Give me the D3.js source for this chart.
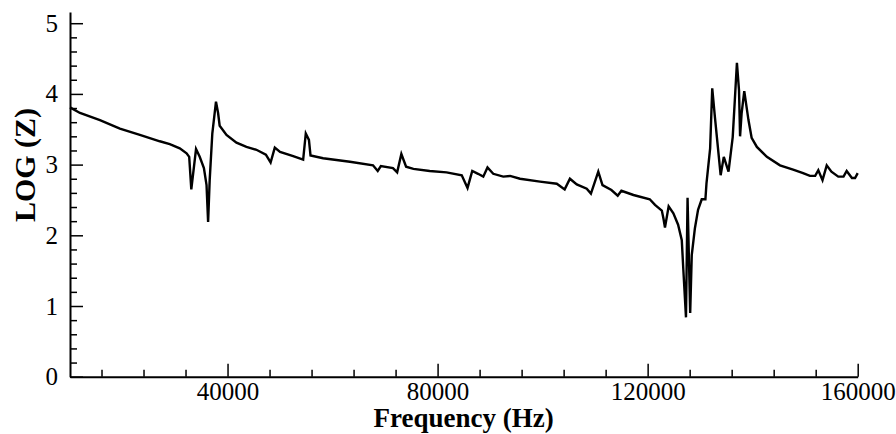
<!DOCTYPE html>
<html>
<head>
<meta charset="utf-8">
<script src="https://cdn.jsdelivr.net/npm/d3@7"></script>
<style>
  body { margin: 0; background: #fff; }
  text { font-family: "Liberation Serif", "Times New Roman", serif; fill: #000; }
</style>
</head>
<body>
<div id="wrapper"></div>
<script>
// frequency (Hz) and log of impedance
const freq = [
  10000, 11900, 15700, 19500, 23300, 27100, 29000, 30900, 32200, 32700,
  33100, 34000, 34700, 35500, 36000, 36300, 36600, 37100, 37800, 38200,
  38500, 39800, 41700, 43600, 45500, 47300, 48200, 49000, 50000, 52500,
  54400, 54900, 55500, 55800, 58200, 63300, 67700, 68600, 69200, 71500,
  72300, 73100, 74000, 75400, 78500, 81700, 84600, 85700, 86600, 87700,
  88700, 89500, 90600, 92500, 93800, 95700, 99500, 102700, 104200, 105200,
  106500, 108400, 109200, 110600, 111400, 113100, 114300, 115000, 117300, 120400,
  121400, 122700, 123000, 123300, 124000, 124900, 125800, 126500, 126800, 127300,
  127600, 127900, 128100, 128400, 129000, 129600, 130300, 131000, 131200, 131900,
  132300, 132800, 133900, 134500, 135400, 136200, 136600, 137000, 137400, 137600,
  137900, 138400, 139200, 139800, 140800, 142700, 145200, 147700, 149600, 150900,
  151900, 152500, 153300, 154100, 155000, 156300, 157300, 157900, 158900, 159500,
  160000
]
const logZ = [
  3.81, 3.73, 3.63, 3.51, 3.42, 3.33, 3.29, 3.23, 3.16, 3.11,
  2.65, 3.22, 3.11, 2.95, 2.71, 2.19, 2.78, 3.44, 3.89, 3.73,
  3.55, 3.42, 3.31, 3.25, 3.21, 3.14, 3.03, 3.24, 3.18, 3.12,
  3.07, 3.44, 3.35, 3.13, 3.09, 3.04, 2.99, 2.91, 2.98, 2.95,
  2.89, 3.15, 2.97, 2.94, 2.91, 2.89, 2.85, 2.67, 2.91, 2.87,
  2.83, 2.96, 2.87, 2.83, 2.84, 2.80, 2.76, 2.73, 2.65, 2.80,
  2.72, 2.66, 2.59, 2.90, 2.71, 2.64, 2.56, 2.63, 2.57, 2.51,
  2.43, 2.35, 2.24, 2.11, 2.41, 2.31, 2.15, 1.93, 1.51, 0.84,
  2.53, 1.54, 0.90, 1.72, 2.10, 2.36, 2.51, 2.51, 2.73, 3.23,
  4.08, 3.68, 2.85, 3.11, 2.90, 3.39, 3.91, 4.44, 4.05, 3.40,
  3.73, 4.04, 3.63, 3.38, 3.25, 3.11, 2.99, 2.93, 2.88, 2.84,
  2.84, 2.92, 2.78, 2.99, 2.90, 2.83, 2.83, 2.91, 2.81, 2.81,
  2.88
]
const xMajorTicks = [40000, 80000, 120000, 160000]
const yMajorTicks = [0, 1, 2, 3, 4, 5]

const data = freq.map((f, i) => ({ f, z: logZ[i] }))

const width = 896
const height = 434

const svg = d3.select("#wrapper")
  .append("svg")
    .attr("width", width)
    .attr("height", height)

// scales
const x = d3.scaleLinear()
  .domain([10000, 160000])
  .range([70, 857.7])
const y = d3.scaleLinear()
  .domain([0, 5.16])
  .range([376.7, 11.9])

const xMinor = d3.range(16000, 160000, 8000).filter(d => !xMajorTicks.includes(d))
const yMinor = d3.range(0, 51, 2).map(d => d / 10).filter(d => !yMajorTicks.includes(d))

// minor ticks
svg.append("g")
    .attr("transform", `translate(0,${y(0)})`)
    .call(d3.axisBottom(x).tickValues(xMinor).tickSize(-7).tickFormat(""))
    .call(g => g.select(".domain").remove())
    .call(g => g.selectAll("line").attr("stroke-width", 1.5))
svg.append("g")
    .attr("transform", `translate(${x(10000)},0)`)
    .call(d3.axisLeft(y).tickValues(yMinor).tickSize(-7).tickFormat(""))
    .call(g => g.select(".domain").remove())
    .call(g => g.selectAll("line").attr("stroke-width", 1.5))

// major ticks + labels
svg.append("g")
    .attr("transform", `translate(0,${y(0)})`)
    .call(d3.axisBottom(x).tickValues(xMajorTicks).tickSize(-13).tickSizeOuter(0).tickPadding(6).tickFormat(d3.format("d")))
    .call(g => g.select(".domain").attr("stroke-width", 2))
    .call(g => g.selectAll("line").attr("stroke-width", 1.5))
    .call(g => g.selectAll("text").style("font-size", "25px"))
svg.append("g")
    .attr("transform", `translate(${x(10000)},0)`)
    .call(d3.axisLeft(y).tickValues(yMajorTicks).tickSize(-13).tickSizeOuter(0).tickPadding(12).tickFormat(d3.format("d")))
    .call(g => g.select(".domain").attr("stroke-width", 2))
    .call(g => g.selectAll("line").attr("stroke-width", 1.5))
    .call(g => g.selectAll("text").style("font-size", "25px"))

// curve
const line = d3.line()
  .x(d => x(d.f))
  .y(d => y(d.z))

svg.append("path")
    .datum(data)
    .attr("d", line)
    .attr("fill", "none")
    .attr("stroke", "#000")
    .attr("stroke-width", 2.4)

// axis titles
svg.append("text")
    .attr("x", 463.7)
    .attr("y", 427)
    .attr("text-anchor", "middle")
    .style("font-size", "27px")
    .style("font-weight", "bold")
    .text("Frequency (Hz)")

svg.append("text")
    .attr("transform", "translate(35,165) rotate(-90)")
    .attr("text-anchor", "middle")
    .style("font-size", "30px")
    .style("font-weight", "bold")
    .text("LOG (Z)")
</script>
</body>
</html>
